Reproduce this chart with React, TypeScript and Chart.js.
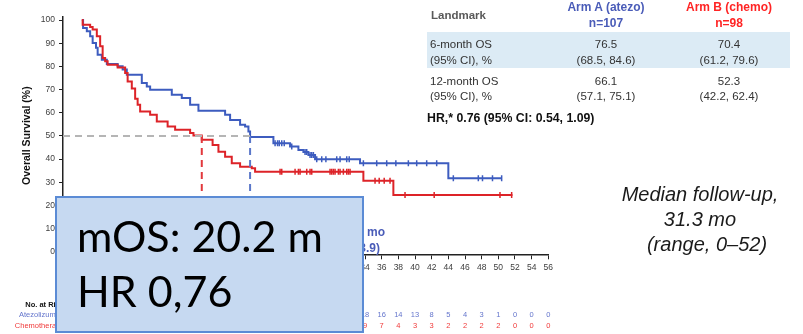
import React, { useEffect, useRef } from "react";
import { Chart, registerables } from "chart.js";
Chart.register(...registerables);

// ---------- data ----------
const xTicks = [0, 2, 4, 6, 8, 10, 12, 14, 16, 18, 20, 22, 24, 26, 28, 30, 32, 34, 36, 38, 40, 42, 44, 46, 48, 50, 52, 54, 56];
const yTicks = [0, 10, 20, 30, 40, 50, 60, 70, 80, 90, 100];
const xMin = -2.26;
const xMax = 56;

const blueTimes = [0, 0.15, 0.6, 1.0, 1.3, 1.7, 1.9, 2.4, 3.0, 4.3, 4.9, 5.4, 7.2, 7.8, 8.2, 10.8, 12.0, 13.0, 14.0, 17.2, 17.8, 19.0, 19.6, 20.0, 20.2, 23.0, 25.0, 26.0, 26.6, 27.2, 28.0, 33.4, 44.0, 50.4];
const blueSurv = [100, 96.6, 95.1, 93.0, 90.1, 88.0, 85.0, 82.9, 81.0, 80.0, 78.6, 76.4, 72.8, 71.3, 69.9, 67.7, 66.3, 63.4, 60.8, 59.1, 56.9, 54.8, 54.0, 51.9, 49.5, 46.8, 45.4, 43.9, 43.0, 41.8, 39.9, 38.2, 31.7, 31.7];

const redTimes = [0, 0.1, 1.0, 1.3, 1.8, 2.2, 2.5, 2.8, 3.1, 4.3, 5.2, 5.5, 6.0, 6.4, 6.7, 7.0, 8.2, 9.0, 10.3, 11.2, 13.0, 13.4, 14.4, 15.7, 16.4, 17.2, 18.0, 19.0, 20.4, 20.8, 33.8, 37.4, 51.7];
const redSurv = [100, 98.0, 97.0, 95.9, 93.0, 88.7, 83.6, 82.2, 80.7, 79.5, 77.1, 73.5, 70.4, 66.0, 63.4, 60.5, 59.1, 56.2, 54.0, 52.6, 51.2, 50.2, 48.3, 46.1, 43.2, 41.0, 38.2, 36.7, 36.0, 34.5, 30.6, 24.5, 24.5];

const blueCensor = [23.2, 23.5, 23.7, 24.0, 24.3, 25.2, 26.8, 27.0, 27.4, 27.6, 27.8, 28.2, 28.8, 29.3, 30.6, 31.0, 31.8, 32.1, 33.8, 35.4, 36.6, 37.7, 39.2, 40.2, 41.4, 42.6, 44.6, 47.6, 48.1, 49.3, 50.4];
const redCensor = [23.8, 24.0, 25.6, 26.0, 26.2, 27.0, 27.4, 27.6, 29.8, 30.0, 30.2, 30.4, 30.8, 31.0, 31.4, 31.8, 32.0, 32.2, 35.2, 35.7, 36.3, 37.0, 38.8, 42.3, 50.2, 51.6];

const blueMedian = 20.2;
const redMedian = 14.4;
const medianLevel = 50;

const riskMonths = xTicks;
const blueRisk = [107, 98, 89, 85, 80, 76, 73, 69, 65, 62, 58, 52, 45, 38, 33, 28, 22, 18, 16, 14, 13, 8, 5, 4, 3, 1, 0, 0, 0];
const redRisk = [98, 90, 79, 69, 58, 55, 51, 49, 42, 37, 34, 30, 26, 21, 17, 14, 11, 9, 7, 4, 3, 3, 2, 2, 2, 2, 0, 0, 0];
const riskLabels = ["No. at Risk", "Atezolizumab", "Chemotherapy"];

const tableHead = ["Landmark", "Arm A (atezo)", "n=107", "Arm B (chemo)", "n=98"];
const rowLabels = [["6-month OS", "(95% CI), %"], ["12-month OS", "(95% CI), %"]];
const armAValues = [["76.5", "(68.5, 84.6)"], ["66.1", "(57.1, 75.1)"]];
const armBValues = [["70.4", "(61.2, 79.6)"], ["52.3", "(42.2, 62.4)"]];
const hrText = "HR,* 0.76 (95% CI: 0.54, 1.09)";
const followUp = ["Median follow-up,", "31.3 mo", "(range, 0\u201352)"];
const boxLines = ["mOS: 20.2 m", "HR 0,76"];
const annot = ["Median OS, 20.2 mo", "(95% CI: 14.9, 33.9)"];

// ---------- styles ----------
const FONT = '"Liberation Sans", Arial, Helvetica, sans-serif';
const BLUE = "#3d5cbf";
const RED = "#dd2328";

function stepAt(times: number[], surv: number[], t: number) {
  let v = surv[0];
  for (let i = 0; i < times.length; i++) if (times[i] <= t) v = surv[i];
  return v;
}

const riskPlugin = {
  id: "riskTable",
  afterDraw(chart: any) {
    const ctx = chart.ctx;
    const xs = chart.scales.x;
    ctx.save();
    ctx.textBaseline = "middle";
    ctx.textAlign = "center";
    ctx.font = `7.5px ${FONT}`;
    riskMonths.forEach((m, i) => {
      const px = xs.getPixelForValue(m);
      ctx.fillStyle = "#6475cc";
      ctx.fillText(String(blueRisk[i]), px, 315);
      ctx.fillStyle = "#f03a3a";
      ctx.fillText(String(redRisk[i]), px, 325.5);
    });
    ctx.textAlign = "right";
    ctx.font = `bold 7.5px ${FONT}`;
    ctx.fillStyle = "#111";
    ctx.fillText(riskLabels[0], 64, 305);
    ctx.font = `7.5px ${FONT}`;
    ctx.fillStyle = "#6475cc";
    ctx.fillText(riskLabels[1], 64, 315);
    ctx.fillStyle = "#f03a3a";
    ctx.fillText(riskLabels[2], 64, 325.5);
    ctx.restore();
  },
};

function Txt(props: any) {
  const { x, y, children, align = "left", size = 11.5, weight = "normal", color = "#333", italic = false, family = FONT } = props;
  const lh = Math.round(size * 1.2);
  const style: any = {
    position: "absolute",
    top: y - lh / 2,
    lineHeight: lh + "px",
    fontSize: size,
    fontWeight: weight,
    color,
    fontFamily: family,
    fontStyle: italic ? "italic" : "normal",
    whiteSpace: "nowrap",
  };
  if (align === "left") style.left = x;
  else if (align === "right") style.right = 803 - x;
  else {
    style.left = x;
    style.transform = "translateX(-50%)";
  }
  return <div style={style}>{children}</div>;
}

export default function App() {
  const ref = useRef<HTMLCanvasElement | null>(null);
  useEffect(() => {
    if (!ref.current) return;
    const bluePts = blueTimes.map((t, i) => ({ x: t, y: blueSurv[i] }));
    const redPts = redTimes.map((t, i) => ({ x: t, y: redSurv[i] }));
    const blueC = blueCensor.map((t) => ({ x: t, y: stepAt(blueTimes, blueSurv, t) }));
    const redC = redCensor.map((t) => ({ x: t, y: stepAt(redTimes, redSurv, t) }));
    const chart = new Chart(ref.current, {
      type: "line",
      data: {
        datasets: [
          { data: [{ x: xMin, y: medianLevel }, { x: blueMedian, y: medianLevel }], borderColor: "#b5b5b5", borderWidth: 2, borderDash: [7, 5], pointRadius: 0 },
          { data: [{ x: redMedian, y: medianLevel }, { x: redMedian, y: 0 }], borderColor: "#e2383c", borderWidth: 2, borderDash: [7, 5], pointRadius: 0 },
          { data: [{ x: blueMedian, y: medianLevel }, { x: blueMedian, y: 0 }], borderColor: "#5a77c9", borderWidth: 2, borderDash: [7, 5], pointRadius: 0 },
          { data: redPts, borderColor: RED, borderWidth: 2, stepped: true, pointRadius: 0 },
          { data: bluePts, borderColor: BLUE, borderWidth: 2, stepped: true, pointRadius: 0 },
          { data: redC, showLine: false, pointStyle: "line", rotation: 90, pointRadius: 3, borderColor: RED, borderWidth: 1.5 } as any,
          { data: blueC, showLine: false, pointStyle: "line", rotation: 90, pointRadius: 3, borderColor: BLUE, borderWidth: 1.5 } as any,
        ],
      },
      options: {
        responsive: false,
        animation: false,
        devicePixelRatio: 1,
        layout: { padding: { left: 0, top: 17, right: 803 - 548.3, bottom: 0 } },
        plugins: { legend: { display: false }, tooltip: { enabled: false } },
        elements: { line: { tension: 0 } },
        scales: {
          x: {
            type: "linear",
            min: xMin,
            max: xMax,
            afterBuildTicks: (s: any) => { s.ticks = xTicks.map((v) => ({ value: v })); },
            afterFit: (s: any) => { s.height = 334 - 254.3; },
            ticks: { autoSkip: false, maxRotation: 0, padding: 3, color: "#404040", font: { family: FONT, size: 8.5 }, callback: (v: any) => String(v) },
            grid: { display: true, drawOnChartArea: false, drawTicks: true, tickLength: 5, color: "#222", lineWidth: 1 },
            border: { display: true, color: "#222", width: 1.5 },
          },
          y: {
            type: "linear",
            min: -1.1,
            max: 101.3,
            afterBuildTicks: (s: any) => { s.ticks = yTicks.map((v) => ({ value: v })); },
            afterFit: (s: any) => { s.width = 63; },
            ticks: { padding: 4, color: "#404040", font: { family: FONT, size: 8.5 }, callback: (v: any) => String(v) },
            grid: { display: true, drawOnChartArea: false, drawTicks: true, tickLength: 4, color: "#222", lineWidth: 1 },
            border: { display: true, color: "#222", width: 1.5 },
            title: { display: true, text: "Overall Survival (%)", color: "#111", font: { family: FONT, size: 10.5, weight: "bold" }, padding: { top: 21, bottom: 0 } },
          },
        },
      },
      plugins: [riskPlugin],
    } as any);
    return () => chart.destroy();
  }, []);

  return (
    <div style={{ position: "absolute", left: 0, top: 0, width: 803, height: 334, overflow: "hidden", background: "#fff" }}>
      <canvas ref={ref} width={803} height={334} style={{ position: "absolute", left: 0, top: 0, width: 803, height: 334 }} />

      {/* landmark table */}
      <div style={{ position: "absolute", left: 427, top: 32, width: 363, height: 36, background: "#dcebf5" }} />
      <Txt x={431} y={15} weight="bold" color="#595959" size={11.5}>{tableHead[0]}</Txt>
      <Txt x={606} y={7} align="center" weight="bold" color="#4a5cb8" size={12}>{tableHead[1]}</Txt>
      <Txt x={606} y={23} align="center" weight="bold" color="#4a5cb8" size={12}>{tableHead[2]}</Txt>
      <Txt x={729} y={7} align="center" weight="bold" color="#ff2424" size={12}>{tableHead[3]}</Txt>
      <Txt x={729} y={23} align="center" weight="bold" color="#ff2424" size={12}>{tableHead[4]}</Txt>
      {rowLabels.map((r, i) => (
        <React.Fragment key={i}>
          <Txt x={430} y={[43.5, 81][i]}>{r[0]}</Txt>
          <Txt x={430} y={[59.5, 96][i]}>{r[1]}</Txt>
          <Txt x={606} y={[43.5, 81][i]} align="center">{armAValues[i][0]}</Txt>
          <Txt x={606} y={[59.5, 96][i]} align="center">{armAValues[i][1]}</Txt>
          <Txt x={729} y={[43.5, 81][i]} align="center">{armBValues[i][0]}</Txt>
          <Txt x={729} y={[59.5, 96][i]} align="center">{armBValues[i][1]}</Txt>
        </React.Fragment>
      ))}
      <Txt x={427} y={118.5} weight="bold" color="#111" size={12.3}>{hrText}</Txt>

      {/* follow-up note */}
      <Txt x={700} y={193.5} align="center" italic size={20} color="#1a1a1a">{followUp[0]}</Txt>
      <Txt x={700} y={218.5} align="center" italic size={20} color="#1a1a1a">{followUp[1]}</Txt>
      <Txt x={707} y={243.5} align="center" italic size={20} color="#1a1a1a">{followUp[2]}</Txt>

      {/* median annotation (mostly covered) */}
      <Txt x={385} y={231.5} align="right" weight="bold" color="#4a5cb8" size={12}>{annot[0]}</Txt>
      <Txt x={380} y={247.5} align="right" weight="bold" color="#4a5cb8" size={12}>{annot[1]}</Txt>

      {/* overlay box */}
      <div style={{ position: "absolute", left: 55, top: 196, width: 309, height: 137, background: "#c6d9f1", border: "2px solid #5b8bd5", boxSizing: "border-box" }} />
      <div style={{ position: "absolute", left: 77, top: 214, fontFamily: "Lato, 'Open Sans', sans-serif", fontSize: 43, lineHeight: "43px", color: "#000", whiteSpace: "nowrap" }}>{boxLines[0]}</div>
      <div style={{ position: "absolute", left: 77, top: 269, fontFamily: "Lato, 'Open Sans', sans-serif", fontSize: 43, lineHeight: "43px", color: "#000", whiteSpace: "nowrap" }}>{boxLines[1]}</div>
    </div>
  );
}
